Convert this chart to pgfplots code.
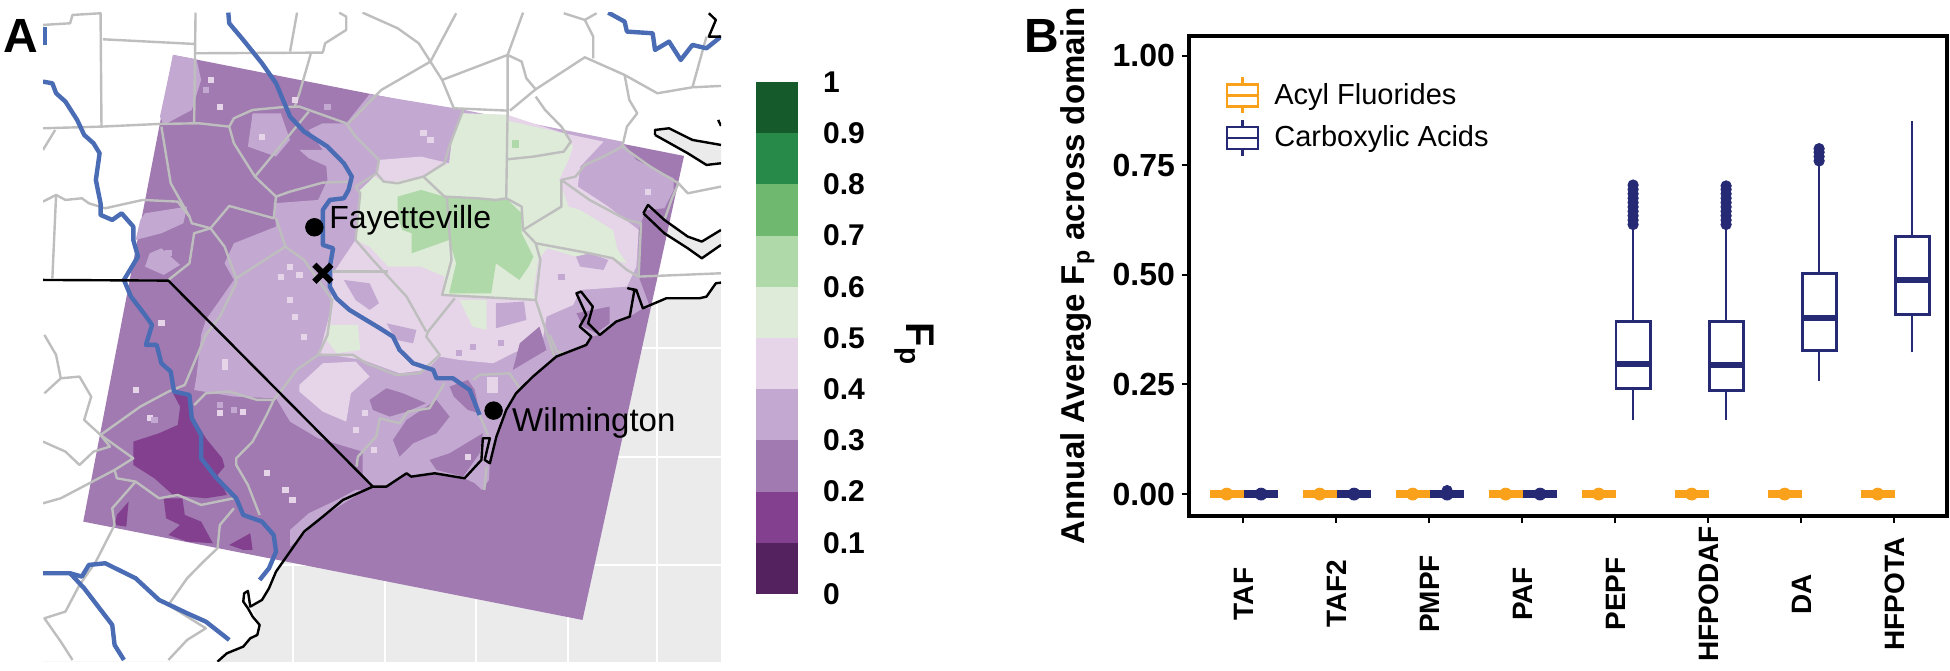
\documentclass[border=0pt]{standalone}
\usepackage{fontspec}
\setmainfont{Liberation Sans}
\usepackage{pgfplots}
\pgfplotsset{compat=1.18}

\definecolor{c0}{HTML}{54235F}
\definecolor{c1}{HTML}{83408F}
\definecolor{c2}{HTML}{A07AB0}
\definecolor{c3}{HTML}{C3A9D1}
\definecolor{c4}{HTML}{E6D5E8}
\definecolor{c5}{HTML}{DDEBD8}
\definecolor{c6}{HTML}{B0D9A9}
\definecolor{c7}{HTML}{6FB870}
\definecolor{c8}{HTML}{288A48}
\definecolor{c9}{HTML}{145A2B}
\definecolor{sea}{HTML}{EBEBEB}
\definecolor{county}{HTML}{BEBEBE}
\definecolor{river}{HTML}{4A6CB5}
\definecolor{acyl}{HTML}{F9A11B}
\definecolor{acid}{HTML}{262A75}

\tikzset{
  county/.style={draw=county, line width=1.2pt, line join=round},
  river/.style={draw=river, line width=2.2pt, line join=round},
  coast/.style={draw=black, line width=1.2pt, line join=round},
  gridw/.style={draw=white, line width=1pt},
}

% one box: colour, position, low whisker, q1, median, q3, high whisker
\newcommand{\onebox}[7]{%
  \addplot[forget plot, #1, line width=1.2pt] coordinates {(#2,#3) (#2,#4)};
  \addplot[forget plot, #1, line width=1.2pt] coordinates {(#2,#6) (#2,#7)};
  \addplot[forget plot, draw=#1, fill=white, line width=1.4pt] coordinates {(#2-0.183,#4) (#2+0.183,#4) (#2+0.183,#6) (#2-0.183,#6)} -- cycle;
  \addplot[forget plot, #1, line width=3pt] coordinates {(#2-0.183,#5) (#2+0.183,#5)};
}
% flat box at zero, with its blob of points
\newcommand{\zerobox}[2]{%
  \addplot[forget plot, #1, line width=4pt] coordinates {(#2-0.183,0) (#2+0.183,0)};
  \addplot[forget plot, only marks, mark=*, mark size=3pt, #1, mark options={draw=#1, fill=#1}] coordinates {(#2,0)};
}

\begin{document}
\begin{tikzpicture}
\useasboundingbox (0,0) rectangle (975pt,335pt);

% panel A, map, coordinates are traced from the picture
\begin{axis}[
  at={(21.5pt,4.2pt)}, anchor=south west, scale only axis,
  width=339pt, height=324.5pt,
  xmin=92, xmax=1541, ymin=38, ymax=1985, y dir=reverse,
  hide axis]
% sea and graticule
\addplot[fill=sea, draw=none] coordinates {(92,38) (1541,38) (1541,1985) (92,1985)} -- cycle;
\addplot[gridw] coordinates {(627,1000) (627,1985)};
\addplot[gridw] coordinates {(823,1000) (823,1985)};
\addplot[gridw] coordinates {(1018,1000) (1018,1985)};
\addplot[gridw] coordinates {(1213,1000) (1213,1985)};
\addplot[gridw] coordinates {(1405,900) (1405,1985)};
\addplot[gridw] coordinates {(1000,1045) (1541,1045)};
\addplot[gridw] coordinates {(1000,1372) (1541,1372)};
\addplot[gridw] coordinates {(500,1695) (1541,1695)};
% land
\addplot[fill=white, draw=none] coordinates {(92,38) (1541,38) (1541,848) (1530,850) (1510,890) (1424,895) (1374,925) (1346,950) (1317,965) (1282,1005) (1264,1010) (1253,1035) (1189,1070) (1139,1130) (1103,1180) (1082,1230) (1061,1310) (1047,1390) (1029,1380) (993,1435) (929,1420) (879,1430) (869,1420) (826,1460) (797,1460) (733,1500) (690,1550) (650,1595) (620,1655) (590,1715) (575,1765) (560,1800) (535,1820) (555,1875) (550,1905) (535,1915) (520,1940) (485,1960) (465,1985) (92,1985)} -- cycle;
% sounds
\addplot[fill=sea, draw=none] coordinates {(1541,690) (1500,725) (1470,710) (1420,660) (1385,615) (1375,650) (1420,700) (1470,745) (1500,775) (1541,735)} -- cycle;
\addplot[fill=sea, draw=none] coordinates {(1400,390) (1430,385) (1480,420) (1541,435) (1541,490) (1510,495) (1470,460) (1400,405)} -- cycle;

% modelled field, one polygon per colour class
\addplot[fill=c2, draw=none] coordinates {(370,165) (1462,468) (1245,1860) (178,1565)} -- cycle;
\addplot[fill=c3, draw=none] coordinates {(370,165) (420,178) (430,240) (410,330) (350,375) (342,350)} -- cycle;
\addplot[fill=c3, draw=none] coordinates {(790,283) (985,328) (1330,425) (1360,480) (1440,535) (1440,570) (1420,625) (1380,630) (1365,690) (1365,830) (1390,925) (1374,925) (1346,950) (1317,965) (1282,1005) (1264,1010) (1253,1035) (1189,1070) (1139,1130) (1103,1180) (1082,1230) (1061,1310) (1047,1390) (1045,1440) (1030,1470) (1015,1450) (993,1435) (929,1420) (879,1430) (869,1420) (826,1460) (797,1460) (775,1430) (775,1355) (680,1315) (620,1265) (590,1195) (500,1190) (415,1170) (420,1130) (430,1005) (440,960) (500,840) (480,790) (500,730) (590,680) (585,610) (680,600) (700,540) (695,460) (660,390) (690,370) (740,370)} -- cycle;
\addplot[fill=c3, draw=none] coordinates {(310,640) (400,620) (392,670) (345,700) (290,720) (300,660)} -- cycle;
\addplot[fill=c3, draw=none] coordinates {(320,760) (345,745) (385,795) (350,825) (310,800)} -- cycle;
\addplot[fill=c3, draw=none] coordinates {(540,340) (600,340) (620,420) (590,470) (530,440)} -- cycle;
\addplot[fill=c3, draw=none] coordinates {(640,450) (695,450) (700,500) (660,475)} -- cycle;
\addplot[fill=c3, draw=none] coordinates {(620,1590) (660,1540) (720,1500) (760,1470) (780,1470) (690,1550) (640,1615) (620,1640)} -- cycle;
% 0.4 to 0.5
\addplot[fill=c4, draw=none] coordinates {(810,480) (900,470) (960,490) (985,340) (1085,345) (1205,400) (1290,425) (1240,500) (1235,560) (1300,620) (1365,690) (1360,800) (1340,860) (1240,870) (1225,915) (1168,950) (1160,1020) (1096,1060) (1054,1090) (982,1080) (940,1070) (911,1110) (854,1120) (776,1080) (683,1060) (705,940) (712,820) (760,720) (770,580) (805,520)} -- cycle;
\addplot[fill=c4, draw=none] coordinates {(640,1155) (690,1090) (760,1085) (790,1130) (750,1180) (740,1265) (690,1235) (640,1175)} -- cycle;
\addplot[fill=c4, draw=none] coordinates {(1040,1130) (1065,1130) (1065,1180) (1040,1180)} -- cycle;
\addplot[fill=c3, draw=none] coordinates {(735,840) (790,850) (810,910) (790,930) (760,900)} -- cycle;
\addplot[fill=c3, draw=none] coordinates {(826,970) (890,990) (883,1030) (847,1020)} -- cycle;
\addplot[fill=c3, draw=none] coordinates {(1060,910) (1120,905) (1125,960) (1060,985)} -- cycle;
\addplot[fill=c3, draw=none] coordinates {(1225,750) (1260,760) (1300,780) (1290,810) (1240,800)} -- cycle;
% 0.5 to 0.6
\addplot[fill=c5, draw=none] coordinates {(985,340) (1085,345) (1085,362) (1205,400) (1225,440) (1215,480) (1195,540) (1215,620) (1240,630) (1310,690) (1320,750) (1340,790) (1260,760) (1230,770) (1170,745) (1150,780) (1140,880) (1145,900) (945,885) (950,830) (900,800) (830,800) (790,740) (760,720) (765,620) (770,570) (800,530) (825,550) (900,530) (960,490) (965,430)} -- cycle;
\addplot[fill=c5, draw=none] coordinates {(700,975) (765,975) (770,1050) (720,1060) (698,1020)} -- cycle;
\addplot[fill=c5, draw=none] coordinates {(982,900) (1040,900) (1040,990) (1010,980)} -- cycle;
% 0.6 to 0.7
\addplot[fill=c6, draw=none] coordinates {(850,590) (900,570) (950,590) (1085,600) (1115,640) (1115,700) (1140,770) (1130,800) (1110,840) (1060,790) (1050,880) (960,880) (975,790) (960,720) (880,760) (880,700) (860,690) (850,650)} -- cycle;
\addplot[fill=c6, draw=none] coordinates {(1095,420) (1110,420) (1110,445) (1095,445)} -- cycle;
% darker blobs east of the river
\addplot[fill=c2, draw=none] coordinates {(790,1200) (826,1165) (861,1180) (911,1210) (869,1235) (833,1250) (797,1230)} -- cycle;
\addplot[fill=c2, draw=none] coordinates {(840,1320) (869,1260) (933,1200) (961,1250) (933,1300) (883,1330) (854,1370)} -- cycle;
\addplot[fill=c2, draw=none] coordinates {(961,1160) (1000,1140) (1015,1170) (1025,1240) (1000,1230) (970,1190)} -- cycle;
\addplot[fill=c2, draw=none] coordinates {(918,1380) (961,1360) (1032,1300) (1025,1360) (990,1430) (933,1410)} -- cycle;
\addplot[fill=c2, draw=none] coordinates {(1111,1030) (1153,980) (1168,1050) (1132,1080) (1096,1110)} -- cycle;
\addplot[fill=c2, draw=none] coordinates {(1232,940) (1303,920) (1303,970) (1274,1000) (1246,980)} -- cycle;
% 0.1 to 0.2
\addplot[fill=c1, draw=none] coordinates {(370,1180) (400,1185) (410,1245) (440,1315) (475,1375) (480,1400) (465,1425) (485,1485) (440,1495) (370,1485) (330,1435) (285,1395) (285,1325) (340,1300) (380,1275) (385,1220)} -- cycle;
\addplot[fill=c1, draw=none] coordinates {(350,1495) (390,1495) (395,1545) (430,1565) (455,1630) (400,1625) (360,1605) (385,1575) (355,1555)} -- cycle;
\addplot[fill=c1, draw=none] coordinates {(250,1545) (275,1505) (270,1580) (245,1575)} -- cycle;
\addplot[fill=c1, draw=none] coordinates {(490,1635) (535,1600) (540,1650) (520,1650)} -- cycle;
% speckles
\addplot[only marks, mark=square*, mark size=1.3pt, c4, mark options={draw=none, fill=c4}] coordinates {(450,240) (470,320) (560,410) (630,300) (345,970) (480,1085) (480,1100) (290,1170) (320,1255) (570,1420) (610,1470) (625,1500) (470,1240) (520,1235) (905,400) (920,420) (1385,575) (620,800) (640,825) (600,830) (620,900) (650,1010) (630,950) (1000,1370) (800,1350) (780,1240) (760,1290)};
\addplot[only marks, mark=square*, mark size=1.3pt, c3, mark options={draw=none, fill=c3}] coordinates {(440,270) (700,320) (360,760) (470,1215) (330,1260) (500,1230) (1010,1040) (980,1060) (1070,1030) (1200,830)};

% counties
\addplot[county] coordinates {(92,75) (150,70) (155,45) (215,40) (217,380)};
\addplot[county] coordinates {(92,385) (217,380) (340,372) (425,370) (490,380) (500,355) (540,330) (600,322) (640,320) (740,370) (760,410) (810,480) (805,520) (760,560) (770,580) (760,720) (797,780) (869,890) (911,995)};
\addplot[county] coordinates {(220,118) (415,132)};
\addplot[county] coordinates {(418,38) (415,370)};
\addplot[county] coordinates {(415,160) (690,158)};
\addplot[county] coordinates {(635,38) (620,155)};
\addplot[county] coordinates {(665,158) (640,280) (630,320)};
\addplot[county] coordinates {(725,38) (740,50) (740,90) (695,130) (690,158)};
\addplot[county] coordinates {(775,38) (850,85) (895,130) (920,185) (975,40)};
\addplot[county] coordinates {(920,185) (815,270) (745,370)};
\addplot[county] coordinates {(1118,38) (1085,165) (945,240) (920,185)};
\addplot[county] coordinates {(945,240) (970,325) (1085,332) (1085,165) (1115,185) (1125,235) (1145,268) (1090,332)};
\addplot[county] coordinates {(1145,268) (1250,172) (1335,225) (1405,280) (1480,262) (1541,258)};
\addplot[county] coordinates {(1205,40) (1250,60) (1268,110) (1268,175)};
\addplot[county] coordinates {(1250,60) (1275,40)};
\addplot[county] coordinates {(1510,110) (1480,262)};
\addplot[county] coordinates {(1145,290) (1165,330) (1200,380) (1220,425) (1205,455) (1140,470) (1085,478)};
\addplot[county] coordinates {(1335,225) (1345,300) (1362,340) (1340,380) (1330,440) (1290,470) (1250,495) (1230,530) (1200,540)};
\addplot[county] coordinates {(1330,440) (1390,500) (1450,550) (1470,580) (1541,560)};
\addplot[county] coordinates {(1450,550) (1435,600) (1420,660)};
\addplot[county] coordinates {(1085,332) (1082,595) (1115,620) (1118,690) (1145,730) (1155,780) (1145,900) (1185,1070)};
\addplot[county] coordinates {(990,330) (960,440) (950,490) (905,530) (850,550) (820,545) (805,520)};
\addplot[county] coordinates {(905,530) (950,590) (1020,595) (1060,600) (1082,595)};
\addplot[county] coordinates {(955,590) (965,780) (945,885) (1145,900)};
\addplot[county] coordinates {(1118,690) (1200,620) (1200,540) (1260,600) (1340,660) (1370,670) (1365,830)};
\addplot[county] coordinates {(1145,730) (1260,760) (1310,775) (1340,810) (1365,830) (1541,820)};
\addplot[county] coordinates {(755,545) (690,548) (620,575) (590,590) (545,530) (660,335)};
\addplot[county] coordinates {(545,530) (500,430) (490,380)};
\addplot[county] coordinates {(590,590) (585,655) (490,618) (450,685)};
\addplot[county] coordinates {(590,655) (610,740) (505,835) (505,850) (470,950) (440,1005) (395,1155) (360,1175) (300,1220) (215,1305)};
\addplot[county] coordinates {(610,740) (650,780) (680,840) (710,900) (700,1005) (680,1065) (634,1110) (605,1165) (585,1200)};
\addplot[county] coordinates {(705,815) (830,815)};
\addplot[county] coordinates {(305,600) (380,605) (405,650) (410,670) (450,685) (480,740) (505,835)};
\addplot[county] coordinates {(345,380) (365,550) (405,650)};
\addplot[county] coordinates {(450,685) (415,700) (405,790) (360,840)};
\addplot[county] coordinates {(92,605) (120,585) (140,600) (175,595) (190,610) (225,625) (305,600)};
\addplot[county] coordinates {(120,585) (112,835)};
\addplot[county] coordinates {(92,450) (118,390)};
\addplot[county] coordinates {(95,1005) (120,1065) (130,1135) (95,1180)};
\addplot[county] coordinates {(130,1135) (170,1130) (195,1190) (180,1260) (215,1305) (285,1375) (245,1410) (130,1495) (92,1510)};
\addplot[county] coordinates {(215,1305) (235,1340) (200,1355) (170,1395) (140,1355) (92,1325)};
\addplot[county] coordinates {(245,1410) (250,1435) (290,1445) (340,1495) (380,1485) (430,1515) (500,1495)};
\addplot[county] coordinates {(290,1445) (240,1525) (245,1575) (205,1685) (170,1755) (140,1835) (95,1855) (130,1925) (155,1980)};
\addplot[county] coordinates {(415,1215) (440,1180) (490,1175) (550,1200) (585,1200) (570,1245) (540,1325) (505,1375) (505,1395) (530,1455) (555,1545)};
\addplot[county] coordinates {(680,1065) (755,1065) (783,1090) (847,1125) (897,1120) (940,1065) (911,1010) (915,995) (972,895)};
\addplot[county] coordinates {(950,1150) (918,1225) (872,1235) (854,1270) (812,1255) (804,1310) (765,1370) (762,1400)};
\addplot[county] coordinates {(1011,1140) (1025,1125) (1089,1120) (1111,1165)};
\addplot[county] coordinates {(1025,1245) (1043,1305)};
\addplot[county] coordinates {(1040,1400) (1035,1470)};
\addplot[county] coordinates {(500,1525) (470,1575) (465,1645) (435,1685) (400,1735) (360,1815) (440,1885) (400,1920) (360,1980)};
\addplot[county] coordinates {(1175,1005) (1190,1055) (1205,1060)};

% rivers
\addplot[river] coordinates {(488,38) (490,70) (520,120) (560,190) (590,250) (605,300) (620,350) (650,395) (700,440) (735,490) (752,530) (745,570) (735,595) (705,600) (690,630) (690,700) (690,735) (712,745) (705,800) (705,860) (719,895) (747,930) (812,985) (840,1010) (854,1050) (883,1090) (926,1110) (933,1135) (968,1135) (1004,1170) (1025,1245)};
\addplot[river] coordinates {(92,245) (112,250) (120,280) (140,305) (165,360) (180,405) (200,430) (213,460) (205,540) (215,610) (215,645) (240,660) (260,640) (285,680) (285,720) (295,770) (265,840) (280,890) (310,945) (325,975) (312,1035) (335,1035) (345,1090) (365,1115) (372,1175) (405,1185) (410,1255) (430,1305) (430,1375) (460,1430) (505,1495) (520,1545) (560,1565) (585,1605) (590,1655) (575,1705) (555,1740)};
\addplot[river] coordinates {(95,80) (95,135)};
\addplot[river] coordinates {(1300,38) (1335,65) (1340,95) (1395,100) (1400,150) (1430,125) (1455,180) (1480,135) (1510,145) (1541,110)};
\addplot[river] coordinates {(92,1720) (150,1720) (175,1730) (190,1695) (225,1690) (290,1735) (340,1800) (400,1840) (440,1865) (490,1920)};
\addplot[river] coordinates {(150,1720) (180,1765) (240,1875) (245,1935) (265,1980)};

% coast and state line
\addplot[coast] coordinates {(465,1985) (485,1960) (520,1940) (535,1915) (550,1905) (555,1875) (540,1850) (530,1825) (520,1805) (522,1780) (530,1773) (535,1820) (560,1800) (575,1765) (590,1715) (620,1655) (650,1595) (690,1550) (733,1500) (797,1460) (826,1460) (869,1420) (879,1430) (929,1420) (993,1435) (1029,1380) (1032,1315) (1047,1315) (1036,1380) (1047,1390) (1061,1310) (1082,1230) (1103,1180) (1139,1130) (1189,1070) (1253,1035) (1264,1010) (1239,980) (1253,945) (1232,880) (1242,875) (1267,920) (1257,970) (1282,1005) (1317,965) (1346,950) (1356,870) (1342,865) (1360,870) (1374,925) (1424,895) (1495,895) (1510,890) (1530,850) (1541,848)};
\addplot[coast] coordinates {(1375,640) (1385,615) (1420,660) (1470,710) (1500,725) (1541,690)};
\addplot[coast] coordinates {(1375,640) (1420,700) (1470,745) (1500,775) (1541,735)};
\addplot[coast] coordinates {(1400,405) (1400,390) (1430,385) (1480,420) (1541,435)};
\addplot[coast] coordinates {(1400,405) (1470,460) (1510,495) (1541,490)};
\addplot[coast] coordinates {(1515,40) (1530,60) (1515,110) (1541,110)};
\addplot[coast] coordinates {(1535,360) (1541,378)};
\addplot[coast] coordinates {(92,840) (360,842) (797,1460)};

% sites
\addplot[only marks, mark=*, mark size=4.4pt, mark options={draw=black, fill=black}] coordinates {(672,682) (1055,1232)};
\addplot[only marks, mark=x, mark size=6pt, line width=3pt, black] coordinates {(690,820)};
\node[anchor=west, inner sep=0pt, font=\fontsize{16}{18}\selectfont] at (axis cs:703,660) {Fayetteville};
\node[anchor=west, inner sep=0pt, font=\fontsize{16.5}{18}\selectfont] at (axis cs:1094,1268) {Wilmington};
\end{axis}

% colour key
\begin{axis}[
  at={(378pt,38pt)}, anchor=south west, scale only axis,
  width=21pt, height=256pt,
  xmin=0, xmax=1, ymin=0, ymax=1,
  xtick=\empty, ytick={0,0.1,...,1.01},
  yticklabels={0,0.1,0.2,0.3,0.4,0.5,0.6,0.7,0.8,0.9,1},
  yticklabel pos=right,
  major tick length=0pt,
  yticklabel style={anchor=west, xshift=9pt, font=\bfseries\fontsize{15}{18}\selectfont},
  axis line style={draw=none}]
\addplot[fill=c0, draw=none] coordinates {(0,0) (1,0) (1,0.1) (0,0.1)} -- cycle;
\addplot[fill=c1, draw=none] coordinates {(0,0.1) (1,0.1) (1,0.2) (0,0.2)} -- cycle;
\addplot[fill=c2, draw=none] coordinates {(0,0.2) (1,0.2) (1,0.3) (0,0.3)} -- cycle;
\addplot[fill=c3, draw=none] coordinates {(0,0.3) (1,0.3) (1,0.4) (0,0.4)} -- cycle;
\addplot[fill=c4, draw=none] coordinates {(0,0.4) (1,0.4) (1,0.5) (0,0.5)} -- cycle;
\addplot[fill=c5, draw=none] coordinates {(0,0.5) (1,0.5) (1,0.6) (0,0.6)} -- cycle;
\addplot[fill=c6, draw=none] coordinates {(0,0.6) (1,0.6) (1,0.7) (0,0.7)} -- cycle;
\addplot[fill=c7, draw=none] coordinates {(0,0.7) (1,0.7) (1,0.8) (0,0.8)} -- cycle;
\addplot[fill=c8, draw=none] coordinates {(0,0.8) (1,0.8) (1,0.9) (0,0.9)} -- cycle;
\addplot[fill=c9, draw=none] coordinates {(0,0.9) (1,0.9) (1,1) (0,1)} -- cycle;
\end{axis}
\node[rotate=-90, font=\bfseries\fontsize{20}{22}\selectfont] at (457pt,163pt) {F\textsubscript{p}};

\node[font=\bfseries\fontsize{24}{26}\selectfont] at (10.5pt,317pt) {A};
\node[font=\bfseries\fontsize{24}{26}\selectfont] at (521pt,317pt) {B};

% panel B, box plots
\begin{axis}[
  at={(594.5pt,77pt)}, anchor=south west, scale only axis,
  width=379pt, height=240pt,
  xmin=0.415, xmax=8.565, ymin=-0.05, ymax=1.045,
  axis line style={line width=2pt},
  xtick={1,2,3,4,5,6,7,8},
  xticklabels={TAF,TAF2,PMPF,PAF,PEPF,HFPODAF,DA,HFPOTA},
  xticklabel style={yshift=-35.5pt, rotate=90, anchor=center, font=\bfseries\fontsize{14}{16}\selectfont},
  ytick={0,0.25,0.5,0.75,1},
  yticklabels={0.00,0.25,0.50,0.75,1.00},
  yticklabel style={font=\bfseries\fontsize{16}{18}\selectfont},
  tick style={black, line width=1pt},
  tick align=outside, major tick length=3.5pt,
  xtick pos=bottom, ytick pos=left,
  ylabel={Annual Average F\textsubscript{p} across domain},
  ylabel style={font=\bfseries\fontsize{16.5}{18}\selectfont, at={(axis description cs:-0.147,0.5)}, anchor=center},
  legend style={at={(axis description cs:0.04,0.926)}, anchor=north west, draw=none, fill=none,
    font=\fontsize{14.5}{16}\selectfont, row sep=2pt},
  legend cell align=left]
\addlegendimage{legend image code/.code={
  \draw[acyl, line width=1.3pt] (0,-5.5pt) rectangle (15.5pt,5.5pt);
  \draw[acyl, line width=1.3pt] (0,0) -- (15.5pt,0);
  \draw[acyl, line width=1.3pt] (7.75pt,5.5pt) -- (7.75pt,9pt);
  \draw[acyl, line width=1.3pt] (7.75pt,-5.5pt) -- (7.75pt,-9pt);}}
\addlegendentry{\hspace{5.5pt}Acyl Fluorides}
\addlegendimage{legend image code/.code={
  \draw[acid, line width=1.3pt] (0,-5.5pt) rectangle (15.5pt,5.5pt);
  \draw[acid, line width=1.3pt] (0,0) -- (15.5pt,0);
  \draw[acid, line width=1.3pt] (7.75pt,5.5pt) -- (7.75pt,9pt);
  \draw[acid, line width=1.3pt] (7.75pt,-5.5pt) -- (7.75pt,-9pt);}}
\addlegendentry{\hspace{5.5pt}Carboxylic Acids}

% acyl fluorides, all at zero
\zerobox{acyl}{0.82}
\zerobox{acyl}{1.82}
\zerobox{acyl}{2.82}
\zerobox{acyl}{3.82}
\zerobox{acyl}{4.82}
\zerobox{acyl}{5.82}
\zerobox{acyl}{6.82}
\zerobox{acyl}{7.82}

% carboxylic acids
\zerobox{acid}{1.19}
\zerobox{acid}{2.19}
\zerobox{acid}{3.19}
\zerobox{acid}{4.19}
\addplot[forget plot, only marks, mark=*, mark size=2.6pt, acid, mark options={draw=acid, fill=acid}] coordinates {(3.19,0.008)};
\onebox{acid}{5.19}{0.169}{0.241}{0.296}{0.393}{0.61}
\onebox{acid}{6.19}{0.169}{0.237}{0.294}{0.393}{0.61}
\onebox{acid}{7.19}{0.258}{0.328}{0.401}{0.504}{0.755}
\onebox{acid}{8.19}{0.323}{0.41}{0.488}{0.588}{0.852}
\addplot[forget plot, only marks, mark=*, mark size=2.6pt, acid, mark options={draw=acid, fill=acid}] coordinates {(5.19,0.615) (5.19,0.625) (5.19,0.635) (5.19,0.645) (5.19,0.655) (5.19,0.665) (5.19,0.675) (5.19,0.685) (5.19,0.695) (5.19,0.705) (6.19,0.615) (6.19,0.625) (6.19,0.635) (6.19,0.645) (6.19,0.655) (6.19,0.665) (6.19,0.675) (6.19,0.685) (6.19,0.695) (6.19,0.703) (7.19,0.76) (7.19,0.77) (7.19,0.78) (7.19,0.788)};
\end{axis}
\end{tikzpicture}
\end{document}
